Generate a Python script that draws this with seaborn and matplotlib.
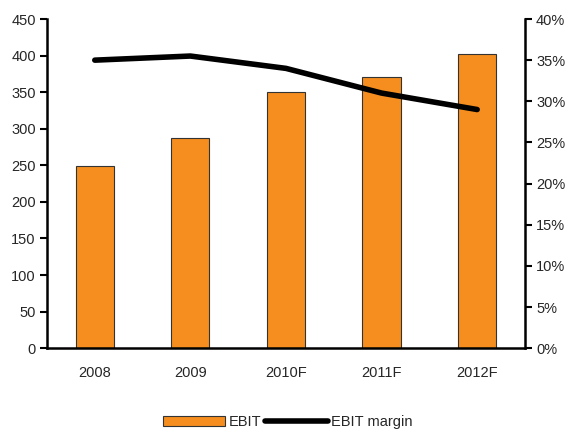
import matplotlib
matplotlib.use("Agg")
import matplotlib.pyplot as plt
from matplotlib.ticker import PercentFormatter, MultipleLocator
from matplotlib.lines import Line2D
from matplotlib.patches import Patch
import seaborn as sns
import pandas as pd

years = ["2008", "2009", "2010F", "2011F", "2012F"]
ebit = [249, 287, 350, 371, 402]
ebit_margin = [35.0, 35.5, 34.0, 31.0, 29.0]

sns.set_style("white")
plt.rcParams["font.family"] = ["Liberation Sans", "DejaVu Sans"]
plt.rcParams["font.size"] = 10.5

df = pd.DataFrame({"year": years, "EBIT": ebit, "margin": ebit_margin})

fig = plt.figure(figsize=(5.75, 4.32), dpi=100)
ax = fig.add_axes([0.0817, 0.194, 0.8313, 0.762])

orange = "#F58E1F"
sns.barplot(data=df, x="year", y="EBIT", ax=ax, color=orange, width=0.4,
            edgecolor="#333333", linewidth=0.8, saturation=1)
ax.set_xlim(-0.5, len(years) - 0.5)
ax.set_ylim(0, 450)
ax.yaxis.set_major_locator(MultipleLocator(50))
ax.set_xlabel("")
ax.set_ylabel("")
ax.set_xticks(range(len(years)))
ax.set_xticklabels(years)
ax.set_xticks([i - 0.5 for i in range(len(years) + 1)], minor=True)
ax.tick_params(axis="x", which="major", length=0, pad=13)
ax.tick_params(axis="x", which="minor", length=5, width=1.5, direction="out", color="black")
ax.tick_params(axis="y", length=5, width=1.5, direction="out", color="black", pad=3)

ax2 = ax.twinx()
sns.lineplot(data=df, x="year", y="margin", ax=ax2, color="black", linewidth=4,
             sort=False, solid_capstyle="round")
ax2.set_ylim(0, 40)
ax2.yaxis.set_major_locator(MultipleLocator(5))
ax2.yaxis.set_major_formatter(PercentFormatter(decimals=0))
ax2.set_ylabel("")
ax2.set_xlabel("")
ax2.tick_params(axis="y", length=5, width=1.5, direction="out", color="black", pad=3)

for a in (ax, ax2):
    a.spines["top"].set_visible(False)
    for s in ("left", "right", "bottom"):
        a.spines[s].set_linewidth(1.8)
        a.spines[s].set_color("black")
ax.spines["right"].set_visible(False)
ax2.spines["bottom"].set_visible(False)
ax2.spines["left"].set_visible(False)

handles = [Patch(facecolor=orange, edgecolor="#333333", linewidth=0.8),
           Line2D([0], [0], color="black", linewidth=4)]
fig.legend(handles, ["EBIT", "EBIT margin"], loc="center", bbox_to_anchor=(0.5, 0.023),
           ncol=2, frameon=False, handlelength=4.3, handleheight=0.6,
           columnspacing=0.3, handletextpad=0.2, fontsize=10.5)

fig.savefig("out.png", dpi=100)
